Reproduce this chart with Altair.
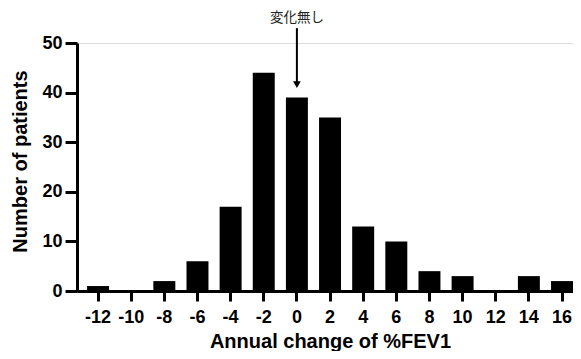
import altair as alt
import pandas as pd

categories = ["-12", "-10", "-8", "-6", "-4", "-2", "0", "2", "4", "6", "8", "10", "12", "14", "16"]
counts = [1, 0, 2, 6, 17, 44, 39, 35, 13, 10, 4, 3, 0, 3, 2]

note_label = "変化無し"
note_x = "0"
note_text_y = 55.1
arrow_top = 53.0
arrow_tip = 41.6

bars_df = pd.DataFrame({"change": categories, "patients": counts})
note_df = pd.DataFrame({"change": [note_x], "ty": [note_text_y], "y1": [arrow_top], "y2": [arrow_tip]})

FONT = "Liberation Sans"

x_scale = alt.Scale(paddingInner=0.337, paddingOuter=0.152, align=1)

x_enc = alt.X(
    "change:N",
    sort=categories,
    scale=x_scale,
    axis=alt.Axis(
        title="Annual change of %FEV1",
        labelAngle=0,
        labelFont=FONT, labelFontSize=18, labelFontWeight="bold", labelColor="black",
        labelPadding=7,
        titleFont=FONT, titleFontSize=20, titleFontWeight="bold", titleColor="black",
        titleBaseline="alphabetic", titleAlign="center", titleX=253, titleY=56,
        domainColor="black", domainWidth=3,
        tickColor="black", tickWidth=3, tickSize=10,
        grid=False,
    ),
)

y_scale = alt.Scale(domain=[0, 50], nice=False)

bars = alt.Chart(bars_df).mark_bar(color="black").encode(
    x=x_enc,
    y=alt.Y(
        "patients:Q",
        scale=y_scale,
        axis=alt.Axis(
            title="Number of patients",
            values=[0, 10, 20, 30, 40, 50],
            labelFont=FONT, labelFontSize=18, labelFontWeight="bold", labelColor="black",
            labelPadding=3,
            titleFont=FONT, titleFontSize=20, titleFontWeight="bold", titleColor="black",
            titleBaseline="middle", titleAlign="center", titleAngle=270, titleX=-57, titleY=118,
            domainColor="black", domainWidth=3,
            tickColor="black", tickWidth=3, tickSize=12,
            grid=False,
        ),
    ),
)

note_text = alt.Chart(note_df).mark_text(
    text=note_label, font="Liberation Sans, Noto Sans CJK JP", fontSize=13.5,
    color="#222222", baseline="middle"
).encode(
    x=alt.X("change:N", sort=categories),
    y=alt.Y("ty:Q", scale=y_scale),
)

arrow_shaft = alt.Chart(note_df).mark_rule(color="black", strokeWidth=2).encode(
    x=alt.X("change:N", sort=categories),
    y=alt.Y("y1:Q", scale=y_scale),
    y2="y2:Q",
)

arrow_head = alt.Chart(note_df).mark_point(
    shape="triangle-down", filled=True, color="black", size=60, opacity=1
).encode(
    x=alt.X("change:N", sort=categories),
    y=alt.Y("y2:Q", scale=y_scale),
)

chart = alt.layer(bars, arrow_shaft, arrow_head, note_text).properties(
    width=496,
    height=248,
    autosize=alt.AutoSizeParams(type="none"),
    padding={"left": 69, "top": 35, "right": 0, "bottom": 60},
).configure_view(stroke=None).configure(background="white")

chart.save("out.html", embed_options={"renderer": "svg", "actions": False})
